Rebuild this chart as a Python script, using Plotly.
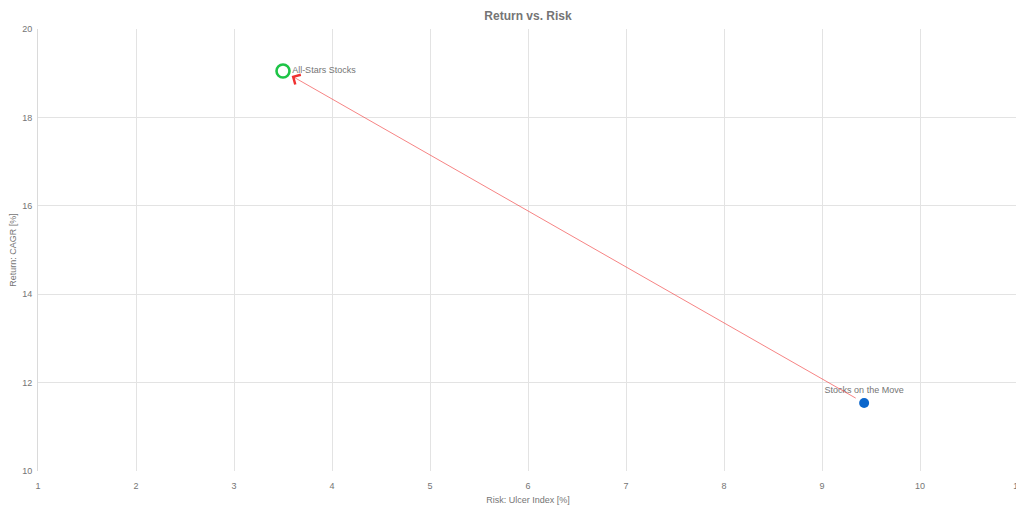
import plotly.graph_objects as go

# strategies: risk (Ulcer Index %) vs return (CAGR %)
names = ["All-Stars Stocks", "Stocks on the Move"]
risk = [3.50, 9.43]
cagr = [19.05, 11.54]

x_ticks = list(range(1, 12))
y_ticks = [10, 12, 14, 16, 18, 20]

GRAY = "#757575"

fig = go.Figure()

# All-Stars: open green circle, label to the right
fig.add_trace(go.Scatter(
    x=[risk[0]], y=[cagr[0]], mode="markers+text",
    text=[names[0]], textposition="middle right",
    textfont=dict(size=9, color=GRAY),
    marker=dict(size=13, color="white", line=dict(color="#1ec447", width=2.6)),
    showlegend=False, hoverinfo="x+y+text", cliponaxis=False,
))

# Stocks on the Move: filled blue dot, label above
fig.add_trace(go.Scatter(
    x=[risk[1]], y=[cagr[1]], mode="markers+text",
    text=[names[1]], textposition="top center",
    textfont=dict(size=9, color=GRAY),
    marker=dict(size=10, color="#0a66cc"),
    showlegend=False, hoverinfo="x+y+text", cliponaxis=False,
))

# red arrow from the second strategy towards the first
fig.add_annotation(
    x=risk[0], y=cagr[0], ax=risk[1], ay=cagr[1],
    xref="x", yref="y", axref="x", ayref="y",
    text="", showarrow=True, arrowhead=4, arrowsize=3.6, arrowwidth=0.6,
    arrowcolor="#f03030", standoff=10, startstandoff=8,
)

# page body adds an 8px offset, so the figure is 8px smaller than the window
fig.update_layout(
    width=1016, height=507,
    margin=dict(l=30, r=6, t=21, b=44, autoexpand=False),
    paper_bgcolor="white", plot_bgcolor="white",
    font=dict(family="Liberation Sans, Arial, sans-serif", color=GRAY),
    title=dict(text="<b>Return vs. Risk</b>", x=0.5, xanchor="center",
               xref="paper", y=1 - 8 / 507, yref="container", yanchor="middle",
               font=dict(size=12, color=GRAY)),
)
fig.update_xaxes(
    range=[1, 11], tickvals=x_ticks, showgrid=True, gridcolor="#e3e3e3",
    zeroline=False, showline=False, tickfont=dict(size=9, color=GRAY),
    title=dict(text="Risk: Ulcer Index [%]", font=dict(size=9, color=GRAY), standoff=6),
    ticks="outside", ticklen=6, tickcolor="rgba(0,0,0,0)", automargin=False,
)
fig.update_yaxes(
    range=[10, 20], tickvals=y_ticks, showgrid=True, gridcolor="#e3e3e3",
    zeroline=False, showline=True, linecolor="#dadada", linewidth=1,
    tickfont=dict(size=9, color=GRAY),
    title=dict(text="Return: CAGR [%]", font=dict(size=9, color=GRAY), standoff=4),
    ticks="outside", ticklen=3, tickcolor="rgba(0,0,0,0)", automargin=False,
)

fig.write_html("out.html")
